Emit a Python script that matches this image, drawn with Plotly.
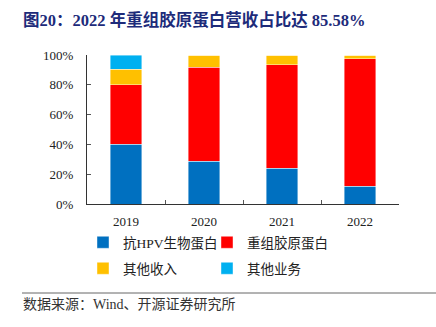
import plotly.graph_objects as go

# Revenue mix by year (% of total)
years = ["2019", "2020", "2021", "2022"]
hpv_protein = [40.0, 28.8, 23.9, 12.0]
recombinant_collagen = [39.9, 63.0, 69.7, 85.58]
other_income = [10.5, 8.0, 6.2, 2.1]
other_business = [9.6, 0.2, 0.2, 0.32]

series_names = ["抗HPV生物蛋白", "重组胶原蛋白", "其他收入", "其他业务"]
series_values = [hpv_protein, recombinant_collagen, other_income, other_business]
series_colors = ["#0070C0", "#FF0000", "#FFC000", "#00B0F0"]
# two legend rows, two entries each
series_legend = ["legend", "legend", "legend2", "legend2"]
series_entry_width = [79, 110, 79, 110]

y_ticks = [0, 20, 40, 60, 80, 100]
y_tick_labels = ["0%", "20%", "40%", "60%", "80%", "100%"]

FONT = "Liberation Serif, Times New Roman, Noto Sans CJK SC, serif"

W, H = 436, 327
L, R, T, B = 87, 37, 55, 123
pw, ph = W - L - R, H - T - B


def px_x(x):
    return (x - L) / pw


def px_y(y):
    return (H - B - y) / ph


fig = go.Figure()
for name, vals, color, lg, lw in zip(series_names, series_values, series_colors,
                                     series_legend, series_entry_width):
    fig.add_trace(go.Bar(
        x=years, y=vals, name=name, legend=lg, legendwidth=lw,
        marker=dict(color=color, line=dict(color="rgba(255,255,255,0.7)", width=0.6)),
        width=0.4,
    ))

legend_style = dict(
    orientation="h", traceorder="normal",
    x=px_x(83), xanchor="left", yanchor="top",
    font=dict(family=FONT, size=13.5, color="#222"),
    itemwidth=30, bgcolor="rgba(0,0,0,0)",
)

fig.update_layout(
    width=W, height=H,
    margin=dict(l=L, r=R, t=T, b=B, pad=0, autoexpand=False),
    barmode="stack",
    plot_bgcolor="white", paper_bgcolor="white",
    font=dict(family=FONT, size=13, color="#222"),
    showlegend=True,
    legend=dict(legend_style, y=px_y(227)),
    legend2=dict(legend_style, y=px_y(253)),
    xaxis=dict(
        type="category", showline=True, linecolor="#333", linewidth=1,
        ticks="inside", tickson="boundaries", ticklen=4, tickcolor="#555",
        showgrid=False, zeroline=False, ticklabelstandoff=5,
        tickfont=dict(family=FONT, size=13, color="#222"),
    ),
    yaxis=dict(
        range=[0, 100], tickvals=y_ticks, ticktext=y_tick_labels,
        showline=True, linecolor="#333", linewidth=1,
        ticks="inside", ticklen=4, tickcolor="#555",
        showgrid=False, zeroline=False, ticklabelstandoff=10,
        tickfont=dict(family=FONT, size=13, color="#222"),
    ),
)

# Title
fig.add_annotation(
    text="<b>图20：2022 年重组胶原蛋白营收占比达 85.58%</b>",
    xref="paper", yref="paper", x=px_x(21), y=px_y(20),
    xanchor="left", yanchor="middle", showarrow=False,
    font=dict(family=FONT, size=16.5, color="#1d2b7a"),
)

# Source separator line and note
fig.add_shape(
    type="line", xref="paper", yref="paper",
    x0=px_x(22), x1=px_x(436), y0=px_y(293), y1=px_y(293),
    line=dict(color="#666", width=1),
)
fig.add_annotation(
    text="数据来源：Wind、开源证券研究所",
    xref="paper", yref="paper", x=px_x(21), y=px_y(304),
    xanchor="left", yanchor="middle", showarrow=False,
    font=dict(family=FONT, size=14, color="#333"),
)

fig.write_html("out.html")
